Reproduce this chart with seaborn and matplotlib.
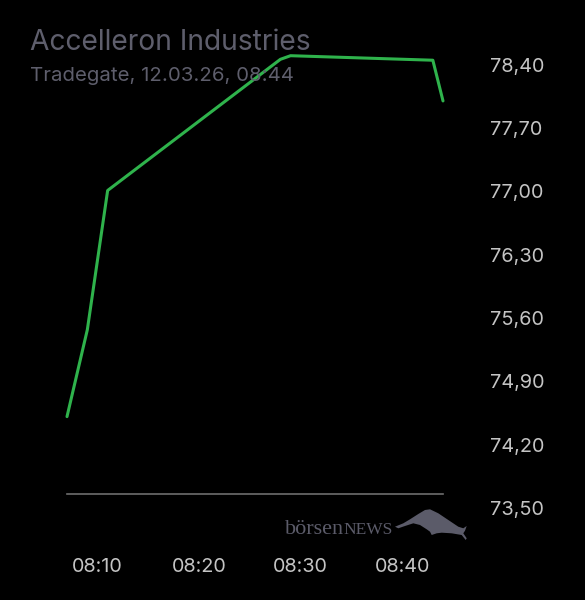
import matplotlib
matplotlib.use("Agg")
import matplotlib.pyplot as plt
from matplotlib.patches import Polygon
import pandas as pd
import seaborn as sns

# price data (Tradegate, 12.03.26)
times = ["08:07", "08:09", "08:11", "08:28", "08:29", "08:43", "08:44"]
prices = [74.51, 75.47, 77.01, 78.46, 78.50, 78.45, 78.00]
y_ticks = [73.50, 74.20, 74.90, 75.60, 76.30, 77.00, 77.70, 78.40]
x_ticks = ["08:10", "08:20", "08:30", "08:40"]
baseline = 73.655

title = "Accelleron Industries"
subtitle = "Tradegate, 12.03.26, 08:44"

BG = "#000000"
GREEN = "#2fb34c"
TITLE_C = "#5e5e6c"
TICK_C = "#c4c4c4"
MARK_C = "#5b5b69"

df = pd.DataFrame({
    "time": pd.to_datetime(["2026-03-12 " + t for t in times]),
    "price": prices,
})

sns.set_style("dark")
plt.rcParams["font.family"] = ["Inter", "DejaVu Sans"]

fig = plt.figure(figsize=(5.85, 6.0), dpi=100, facecolor=BG)
# axes spans 55.7px .. 512.5px from the top
ax = fig.add_axes([67 / 585, (600 - 512.5) / 600, (443 - 67) / 585, (512.5 - 55.7) / 600])
ax.set_facecolor(BG)

sns.lineplot(data=df, x="time", y="price", ax=ax, color=GREEN, linewidth=2.2)
for ln in ax.lines:
    ln.set_clip_on(False)

xt = pd.to_datetime(["2026-03-12 " + t for t in x_ticks])
ax.set_xticks(xt)
ax.set_xticklabels(x_ticks)
ax.set_yticks(y_ticks)
ax.set_yticklabels([f"{v:.2f}".replace(".", ",") for v in y_ticks])
ax.set_xlim(df["time"].iloc[0], df["time"].iloc[-1])
ax.set_ylim(73.45, 78.50)

ax.yaxis.tick_right()
ax.tick_params(axis="y", length=0, pad=34, labelsize=14.3, labelcolor=TICK_C)
ax.tick_params(axis="x", length=0, pad=46, labelsize=14.3, labelcolor=TICK_C)
for lab in ax.get_yticklabels():
    lab.set_horizontalalignment("left")

ax.set_xlabel("")
ax.set_ylabel("")
ax.grid(False)
for side in ["top", "left", "right"]:
    ax.spines[side].set_visible(False)
ax.spines["bottom"].set_visible(True)
ax.spines["bottom"].set_position(("data", baseline))
ax.spines["bottom"].set_color("#6e6e6e")
ax.spines["bottom"].set_linewidth(1.2)

fig.text(30 / 585, 1 - 43 / 600, title, color=TITLE_C, fontsize=20.3,
         va="center", ha="left")
fig.text(30 / 585, 1 - 76 / 600, subtitle, color=TITLE_C, fontsize=14.7,
         va="center", ha="left")

# watermark
fig.text(285 / 585, 1 - 534 / 600, "börsen", color=MARK_C, fontsize=16,
         family="Liberation Serif", va="baseline", ha="left")
fig.text(343 / 585, 1 - 534 / 600, "NEWS", color=MARK_C, fontsize=12.5,
         family="Liberation Serif", va="baseline", ha="left")
bull = [(395, 526.7), (403.3, 523.3), (410, 519.3), (418.3, 514), (425, 510),
        (430, 509.3), (438.3, 513.3), (448.3, 520), (458.3, 526.7), (463.3, 528.3),
        (466.7, 526), (465, 530.7), (463.3, 533.3), (466.7, 538.3), (465.7, 540),
        (461.7, 535), (451.7, 533.3), (441.7, 532.7), (436.7, 533.3), (431.7, 535),
        (430, 531.7), (426.7, 529.3), (420, 525), (413.3, 523.3), (405, 526),
        (398.3, 528.3)]
bull = [(x / 585, 1 - y / 600) for x, y in bull]
fig.patches.append(Polygon(bull, closed=True, transform=fig.transFigure,
                           facecolor=MARK_C, edgecolor="none"))

fig.savefig("out.png", dpi=100, facecolor=BG)
